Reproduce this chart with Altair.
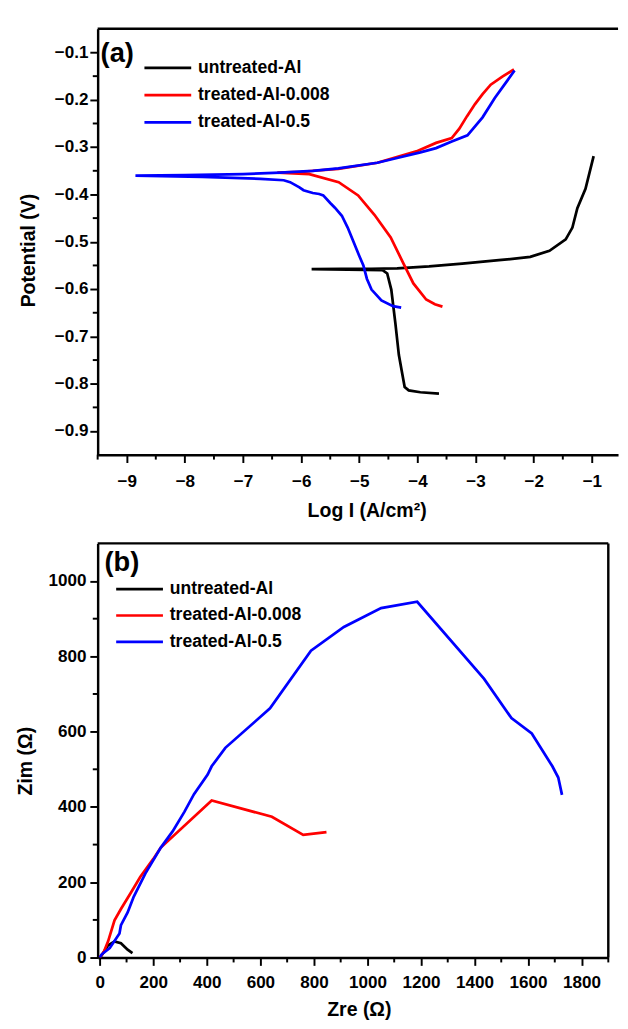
import altair as alt
import pandas as pd

FONT = "Liberation Sans"

# ---------------- data ----------------
series = ["untreated-Al", "treated-Al-0.008", "treated-Al-0.5"]
colors = ["#000000", "#ff0000", "#0000ff"]

# panel (a): Tafel curves, log I (A/cm2) vs potential (V)
untreated_logi = [-3.63, -3.95, -4.15, -4.22, -4.27, -4.32, -4.38, -4.45, -4.52, -4.60,
                  -5.20, -5.82, -5.30, -4.80, -4.35, -3.80, -3.23, -2.60, -2.06, -1.73,
                  -1.45, -1.335, -1.25, -1.11, -0.97]
untreated_E = [-0.821, -0.818, -0.814, -0.807, -0.773, -0.739, -0.672, -0.601, -0.567, -0.560,
               -0.559, -0.558, -0.557, -0.557, -0.556, -0.552, -0.546, -0.539, -0.532, -0.519,
               -0.495, -0.470, -0.429, -0.388, -0.319]

t008_logi = [-3.57, -3.70, -3.85, -4.07, -4.24, -4.46, -4.74, -5.02, -5.355, -5.86,
             -6.41, -6.00, -5.36, -4.69, -4.02, -3.68, -3.41, -3.28, -3.15, -3.01,
             -2.88, -2.74, -2.54, -2.34]
t008_E = [-0.637, -0.632, -0.622, -0.588, -0.546, -0.491, -0.443, -0.402, -0.374, -0.357,
          -0.354, -0.352, -0.346, -0.333, -0.309, -0.291, -0.281, -0.261, -0.235, -0.209,
          -0.188, -0.168, -0.151, -0.136]

t05_logi = [-4.28, -4.42, -4.62, -4.79, -4.87, -4.93, -5.00, -5.10, -5.20, -5.30,
            -5.42, -5.50, -5.62, -5.69, -5.80, -5.96, -6.03, -6.19, -6.30, -6.70,
            -7.70, -8.85, -8.00, -7.00, -6.36, -5.80, -5.36, -4.69, -4.35, -3.95,
            -3.68, -3.41, -3.14, -2.88, -2.67, -2.47, -2.33]
t05_E = [-0.639, -0.636, -0.624, -0.601, -0.578, -0.550, -0.530, -0.500, -0.470, -0.445,
         -0.428, -0.418, -0.402, -0.399, -0.397, -0.391, -0.385, -0.374, -0.370, -0.367,
         -0.363, -0.360, -0.359, -0.357, -0.354, -0.350, -0.345, -0.333, -0.323, -0.311,
         -0.302, -0.288, -0.275, -0.237, -0.196, -0.162, -0.138]

# panel (b): Nyquist plots, Zre vs Zim (ohm)
untreated_zre = [3, 12.7, 30, 55, 79, 104, 122]
untreated_zim = [2, 12, 32, 43, 38, 21, 12]

t008_zre = [0, 15, 31, 55, 79, 116, 151, 200, 228, 418, 643, 760, 847]
t008_zim = [0, 15, 43, 99, 129, 172, 214, 262, 292, 417, 374, 326, 333]

t05_zre = [0, 6.5, 37, 73.5, 79, 104, 127, 170, 228, 272, 316, 352, 403, 418, 469,
           636, 789, 912, 1051, 1186, 1436, 1538, 1614, 1691, 1713, 1727]
t05_zim = [0, 8, 25, 64, 86, 120, 162, 223, 292, 335, 387, 434, 486, 508, 557,
           662, 815, 878, 928, 945, 740, 636, 595, 508, 478, 432]

# axis tick values
a_x_major = [-9, -8, -7, -6, -5, -4, -3, -2, -1]
a_x_minor = [-9.5, -8.5, -7.5, -6.5, -5.5, -4.5, -3.5, -2.5, -1.5]
a_y_major = [-0.9, -0.8, -0.7, -0.6, -0.5, -0.4, -0.3, -0.2, -0.1]
a_y_minor = [-0.85, -0.75, -0.65, -0.55, -0.45, -0.35, -0.25, -0.15]
b_x_major = [0, 200, 400, 600, 800, 1000, 1200, 1400, 1600, 1800]
b_x_minor = [100, 300, 500, 700, 900, 1100, 1300, 1500, 1700, 1900]
b_y_major = [0, 200, 400, 600, 800, 1000]
b_y_minor = [100, 300, 500, 700, 900]


def make_df(triples):
    rows = []
    for s, xs, ys in triples:
        for i, (a, b) in enumerate(zip(xs, ys)):
            rows.append({"series": s, "idx": i, "x": a, "y": b})
    return pd.DataFrame(rows)


dfa = make_df([(series[0], untreated_logi, untreated_E),
               (series[1], t008_logi, t008_E),
               (series[2], t05_logi, t05_E)])
dfb = make_df([(series[0], untreated_zre, untreated_zim),
               (series[1], t008_zre, t008_zim),
               (series[2], t05_zre, t05_zim)])

color_scale = alt.Scale(domain=series, range=colors)


def panel(df, xdom, ydom, W, H, xmaj, xmin, ymaj, ymin, xfmt, yfmt,
          xtitle, ytitle, x_lpad, y_lpad, xtitleX, xtitleY, ytitleX, ytitleY, left_bound,
          letter, letter_x, letter_y, leg_x0, leg_x1, leg_tx, leg_y0, leg_dy, right_frame):
    xs = alt.Scale(domain=xdom, nice=False, zero=False)
    ys = alt.Scale(domain=ydom, nice=False, zero=False)
    xaxis = alt.Axis(title=xtitle, values=xmaj, format=xfmt, tickSize=8,
                     labelPadding=x_lpad, labelFlush=False, labelOverlap=False,
                     titleX=xtitleX, titleY=xtitleY, titleBaseline="alphabetic")
    yaxis = alt.Axis(title=ytitle, values=ymaj, format=yfmt, tickSize=8,
                     labelPadding=y_lpad, labelFlush=False, labelOverlap=False,
                     titleX=ytitleX, titleY=ytitleY, titleBaseline="alphabetic")
    lines = alt.Chart(df).mark_line(strokeWidth=2.8, clip=True).encode(
        x=alt.X("x:Q", scale=xs, axis=xaxis),
        y=alt.Y("y:Q", scale=ys, axis=yaxis),
        color=alt.Color("series:N", scale=color_scale, legend=None),
        order=alt.Order("idx:Q"),
    )
    layers = [lines]
    # minor ticks
    layers.append(alt.Chart(pd.DataFrame({"x": xmin})).mark_rule(color="black", strokeWidth=2).encode(
        x=alt.X("x:Q", scale=xs, axis=xaxis), y=alt.value(H), y2=alt.value(H + 5)))
    layers.append(alt.Chart(pd.DataFrame({"y": ymin})).mark_rule(color="black", strokeWidth=2).encode(
        y=alt.Y("y:Q", scale=ys, axis=yaxis), x=alt.value(-5), x2=alt.value(0)))
    # frame
    one = pd.DataFrame({"k": [0]})
    layers.append(alt.Chart(one).mark_rule(color="black", strokeWidth=2.5).encode(
        x=alt.value(0), x2=alt.value(W), y=alt.value(0)))
    if right_frame:
        layers.append(alt.Chart(one).mark_rule(color="black", strokeWidth=2.5).encode(
            x=alt.value(W), y=alt.value(0), y2=alt.value(H)))
    # invisible left bound anchor
    layers.append(alt.Chart(one).mark_rule(color="white", strokeWidth=1).encode(
        x=alt.value(left_bound), x2=alt.value(left_bound + 1), y=alt.value(H / 2)))
    # panel letter
    layers.append(alt.Chart(pd.DataFrame({"t": [letter]})).mark_text(
        align="left", baseline="middle", font=FONT, fontSize=28, fontWeight="bold", color="black"
    ).encode(text="t:N", x=alt.value(letter_x), y=alt.value(letter_y)))
    # legend
    for i, (s, c) in enumerate(zip(series, colors)):
        yy = leg_y0 + leg_dy * i
        ld = pd.DataFrame({"label": [s]})
        layers.append(alt.Chart(ld).mark_rule(color=c, strokeWidth=2.8).encode(
            x=alt.value(leg_x0), x2=alt.value(leg_x1), y=alt.value(yy)))
        layers.append(alt.Chart(ld).mark_text(
            align="left", baseline="middle", font=FONT, fontSize=18, fontWeight="bold", color="black"
        ).encode(text="label:N", x=alt.value(leg_tx), y=alt.value(yy)))
    return alt.layer(*layers).properties(width=W, height=H)


top = panel(dfa, [-9.5, -0.55], [-0.95, -0.05], 534, 437,
            a_x_major, a_x_minor, a_y_major, a_y_minor, "d", ".1f",
            "Log I (A/cm²)", "Potential (V)", 11, 2, 276, 63, -65, 227, -84,
            "(a)", 3, 26, 48, 96, 103, 40, 28, False)

bottom = panel(dfb, [-8, 1900], [0, 1100], 524, 425,
               b_x_major, b_x_minor, b_y_major, b_y_minor, "d", "d",
               "Zre (Ω)", "Zim (Ω)", 9, 4, 268, 59, -68, 223, -91,
               "(b)", 7, 20, 19, 67, 74, 47, 27, True)

chart = alt.concat(top, bottom, columns=1, align="none", spacing=22).properties(
    padding={"left": 0, "top": 6, "right": 0, "bottom": 0}
).configure_view(stroke=None).configure_axis(
    grid=False, domainColor="black", domainWidth=2.5, tickColor="black", tickWidth=2,
    labelFont=FONT, labelFontSize=17.5, labelFontWeight="bold", labelColor="black",
    titleFont=FONT, titleFontSize=20, titleFontWeight="bold", titleColor="black",
)

chart.save("out.html", embed_options={"renderer": "svg", "actions": False})
